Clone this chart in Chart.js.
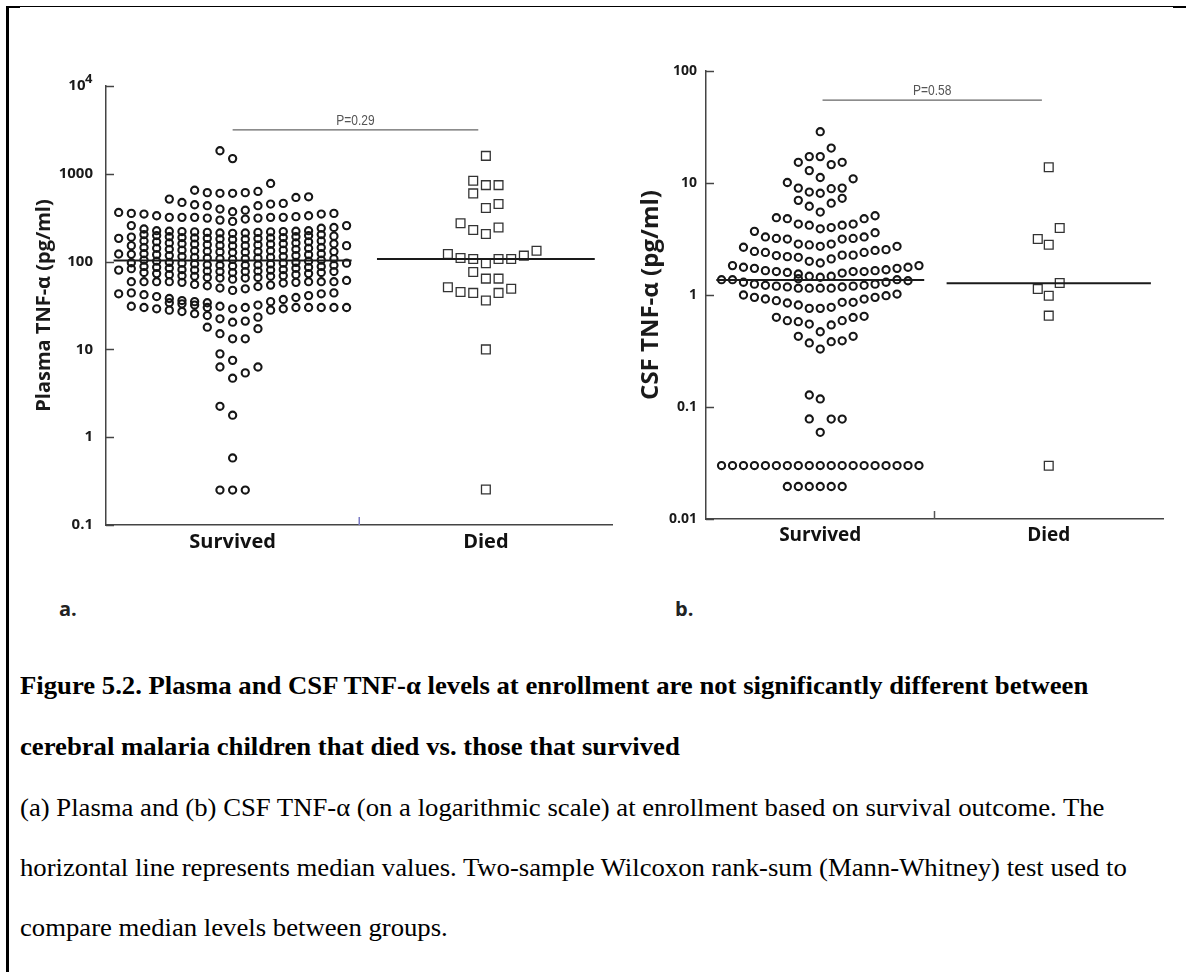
<!DOCTYPE html>
<html>
<head>
<meta charset="utf-8">
<script src="https://cdn.jsdelivr.net/npm/chart.js@4.4.1/dist/chart.umd.min.js"></script>
<style>
  body { margin: 0; background: #fff; width: 1186px; height: 972px; position: relative; overflow: hidden; }
  .box { position: absolute; top: 0; height: 580px; }
  #plasmaBox { left: 0; width: 620px; }
  #csfBox { left: 620px; width: 566px; }
  .rule { position: absolute; background: #000; }
  .tag { position: absolute; font: bold 20px "Open Sans", sans-serif; line-height: 24px; color: #222; }
  .cap { position: absolute; left: 20px; font: 25px "Liberation Serif", "Times New Roman", serif; line-height: 30px;
         white-space: nowrap; color: #000; transform: scaleX(1.068); transform-origin: 0 0; }
  .cap.b { font-weight: bold; }
</style>
</head>
<body>
<div class="rule" style="left:6px;top:6px;width:2.5px;height:966px"></div>
<div class="rule" style="left:6px;top:6px;width:1180px;height:1.3px"></div>
<div class="rule" style="left:6px;top:5.5px;width:14px;height:2.5px"></div>
<div class="rule" style="left:1173px;top:5.5px;width:13px;height:2.5px"></div>

<div class="box" id="plasmaBox"><canvas id="plasma"></canvas></div>
<div class="box" id="csfBox"><canvas id="csf"></canvas></div>

<div class="tag" style="left:59px;top:597px">a.</div>
<div class="tag" style="left:675px;top:597px">b.</div>

<div class="cap b" style="top:671px">Figure 5.2. Plasma and CSF TNF-α levels at enrollment are not significantly different between</div>
<div class="cap b" style="top:732px">cerebral malaria children that died vs. those that survived</div>
<div class="cap" style="top:793px">(a) Plasma and (b) CSF TNF-α (on a logarithmic scale) at enrollment based on survival outcome. The</div>
<div class="cap" style="top:853px">horizontal line represents median values. Two-sample Wilcoxon rank-sum (Mann-Whitney) test used to</div>
<div class="cap" style="top:913px">compare median levels between groups.</div>

<script>
const groups = ["Survived", "Died"];

// each inner list is one column of the swarm, left to right, values in pg/ml
const plasmaSurvivedCols = [
  [363, 184, 122, 80, 43],
  [354, 257, 190, 152, 121, 97, 83, 59, 44, 31],
  [348, 235, 203, 172, 145, 123, 104, 88, 75, 59, 42, 30],
  [333, 225, 198, 168, 142, 120, 101, 86, 73, 59, 40, 29],
  [515, 319, 222, 192, 163, 138, 117, 98, 84, 71, 59, 38, 34, 28],
  [472, 319, 220, 188, 160, 135, 114, 96, 81, 69, 58, 36, 33, 27],
  [650, 444, 319, 218, 186, 158, 133, 112, 94, 80, 68, 55, 35, 32, 25.5],
  [610, 433, 313, 215, 184, 156, 131, 110, 92, 78, 66, 53, 34, 30, 24.3, 17.9],
  [1830, 600, 397, 297, 212, 181, 153, 129, 108, 91, 77, 65, 50, 31, 22.3, 15.1, 8.9, 6.3, 2.25, 0.25],
  [1490, 600, 370, 287, 210, 178, 151, 127, 106, 89, 75, 63, 47, 29, 20.4, 13.2, 7.5, 4.7, 1.78, 0.58, 0.25],
  [610, 385, 305, 212, 180, 152, 128, 108, 91, 77, 65, 49, 30, 21, 13.2, 5.4, 0.25],
  [630, 433, 313, 215, 183, 155, 130, 110, 92, 78, 66, 52, 32, 23.3, 17.2, 6.3],
  [776, 452, 319, 218, 186, 158, 133, 112, 94, 80, 68, 54, 35, 28],
  [460, 319, 220, 188, 160, 135, 114, 96, 81, 69, 57, 37, 29],
  [538, 325, 222, 192, 163, 138, 117, 98, 84, 71, 58, 39, 30],
  [547, 333, 225, 198, 168, 142, 120, 101, 86, 73, 59, 41, 30],
  [348, 240, 203, 172, 145, 123, 104, 88, 75, 59, 43, 30],
  [354, 245, 195, 160, 130, 108, 91, 77, 59, 44, 30],
  [257, 152, 96, 61, 30],
];
const plasmaDiedCols = [
  [],
  [122, 51],
  [273, 110, 45],
  [833, 598, 229, 107, 76, 44],
  [1600, 743, 407, 206, 96, 64, 36, 10, 0.254],
  [743, 452, 245, 107, 64, 44],
  [107, 49],
  [117],
  [133],
];
const plasmaMedians = [103, 107];
const plasmaTicks = [0.1, 1, 10, 100, 1000, 10000];
const plasmaPText = "P=0.29";
const plasmaPLevel = 3160;

const csfSurvivedCols = [
  [1.37, 0.03],
  [1.83, 1.37, 0.03],
  [2.67, 1.77, 1.3, 1.0, 0.03],
  [3.7, 2.45, 1.73, 1.25, 0.953, 0.03],
  [3.3, 2.4, 1.65, 1.22, 0.921, 0.03],
  [4.9, 3.2, 2.25, 1.62, 1.2, 0.89, 0.632, 0.03],
  [10.1, 4.8, 3.16, 2.2, 1.59, 1.18, 0.848, 0.59, 0.03, 0.0195],
  [15.3, 9.0, 7.0, 4.3, 2.85, 2.17, 1.54, 1.4, 1.15, 0.814, 0.578, 0.428, 0.03, 0.0195],
  [17.2, 12.9, 8.3, 6.2, 4.2, 2.8, 2.0, 1.47, 1.15, 0.76, 0.55, 0.373, 0.128, 0.0782, 0.03, 0.0195],
  [28.7, 17.2, 11.2, 8.1, 5.5, 3.9, 2.72, 1.93, 1.44, 1.15, 0.76, 0.47, 0.329, 0.118, 0.0594, 0.03, 0.0195],
  [20.5, 14.6, 8.9, 6.6, 4.0, 2.85, 2.1, 1.47, 1.15, 0.776, 0.54, 0.383, 0.078, 0.03, 0.0195],
  [15.3, 9.0, 7.3, 4.2, 3.16, 2.27, 1.57, 1.18, 0.86, 0.59, 0.39, 0.078, 0.03, 0.0195],
  [10.9, 4.3, 3.2, 2.27, 1.62, 1.2, 0.86, 0.63, 0.428, 0.03],
  [4.8, 3.3, 2.4, 1.62, 1.22, 0.92, 0.645, 0.03],
  [5.1, 3.6, 2.5, 1.65, 1.25, 0.953, 0.03],
  [2.54, 1.68, 1.3, 0.986, 0.03],
  [2.72, 1.73, 1.37, 1.02, 0.03],
  [1.77, 1.34, 0.03],
  [1.83, 0.03],
];
const csfDiedCols = [
  [3.16, 1.13],
  [13.8, 2.81, 0.986, 0.654, 0.0299],
  [3.97, 1.28],
];
const csfMedians = [1.36, 1.27];
const csfTicks = [0.01, 0.1, 1, 10, 100];
const csfPText = "P=0.58";
const csfPLevel = 55;

// turn swarm columns into scatter points around the group position
function swarm(cols, groupX, step) {
  const mid = (cols.length - 1) / 2;
  const pts = [];
  cols.forEach((col, i) => {
    col.forEach(v => pts.push({ x: groupX + (i - mid) * step, y: v }));
  });
  return pts;
}

// inward y ticks, divider tick on the x axis, p-value text, exponent on 10^4
const axisExtras = {
  id: "axisExtras",
  afterDraw(chart, args, opts) {
    const { ctx, chartArea, scales: { x, y } } = chart;
    ctx.save();
    ctx.lineWidth = 1.5;
    ctx.strokeStyle = "#444";
    y.ticks.forEach(t => {
      const py = Math.round(y.getPixelForValue(t.value)) + 0.5;
      ctx.beginPath();
      ctx.moveTo(chartArea.left, py);
      ctx.lineTo(chartArea.left + 8, py);
      ctx.stroke();
    });
    const mx = x.getPixelForValue(1.5);
    ctx.strokeStyle = opts.midColor;
    ctx.beginPath();
    ctx.moveTo(mx, chartArea.bottom);
    ctx.lineTo(mx, chartArea.bottom - 8);
    ctx.stroke();

    ctx.fillStyle = "#555";
    ctx.font = '15px "Liberation Sans", sans-serif';
    ctx.textAlign = "center";
    ctx.textBaseline = "bottom";
    ctx.translate(x.getPixelForValue((opts.pSpan[0] + opts.pSpan[1]) / 2), y.getPixelForValue(opts.pLevel) - 2);
    ctx.scale(0.8, 1);
    ctx.fillText(opts.pText, 0, 0);
    ctx.restore();

    if (opts.exponent) {
      const top = y.ticks[y.ticks.length - 1].value;
      ctx.save();
      ctx.fillStyle = "#1a1a1a";
      ctx.font = 'bold 13px "Open Sans", sans-serif';
      ctx.textAlign = "left";
      ctx.textBaseline = "middle";
      ctx.fillText(opts.exponent, chartArea.left - 21, y.getPixelForValue(top) - 7);
      ctx.restore();
    }
  },
};

function makeChart(id, cfg) {
  const datasets = [
    {
      data: [{ x: 1 - cfg.medHalf[0], y: cfg.medians[0] }, { x: 1 + cfg.medHalf[0], y: cfg.medians[0] }],
      showLine: true, borderColor: "#1a1a1a", borderWidth: 2, pointRadius: 0, order: 0,
    },
    {
      data: [{ x: 2 - cfg.medHalf[1], y: cfg.medians[1] }, { x: 2 + cfg.medHalf[1], y: cfg.medians[1] }],
      showLine: true, borderColor: "#1a1a1a", borderWidth: 2, pointRadius: 0, order: 0,
    },
    {
      data: [{ x: cfg.pSpan[0], y: cfg.pLevel }, { x: cfg.pSpan[1], y: cfg.pLevel }],
      showLine: true, borderColor: "#666", borderWidth: 1.3, pointRadius: 0, order: 0,
    },
    {
      label: groups[0],
      data: swarm(cfg.survived, 1, cfg.step),
      pointStyle: "circle", pointRadius: 3.6, borderWidth: 2.1,
      borderColor: "#161616", backgroundColor: "rgba(0,0,0,0)", order: 1,
    },
    {
      label: groups[1],
      data: swarm(cfg.died, 2, cfg.step),
      pointStyle: "rect", pointRadius: 6.2, borderWidth: 1.3,
      borderColor: "#333", backgroundColor: "rgba(0,0,0,0)", order: 1,
    },
  ];

  return new Chart(document.getElementById(id), {
    type: "scatter",
    data: { datasets },
    options: {
      responsive: true,
      maintainAspectRatio: false,
      animation: false,
      devicePixelRatio: 1,
      layout: { padding: cfg.padding },
      plugins: {
        legend: { display: false },
        tooltip: { enabled: false },
        axisExtras: { midColor: cfg.midColor, pText: cfg.pText, pLevel: cfg.pLevel, pSpan: cfg.pSpan, exponent: cfg.exponent },
      },
      scales: {
        x: {
          type: "linear",
          min: 0.5,
          max: 2.5,
          afterBuildTicks: s => { s.ticks = groups.map((g, i) => ({ value: i + 1 })); },
          afterFit: s => { s.height = cfg.xHeight; },
          grid: { display: false, drawTicks: false },
          border: { display: true, color: "#444", width: 1.5 },
          ticks: {
            padding: 5,
            color: "#111",
            font: { family: "Open Sans", weight: "bold", size: cfg.xFont },
            callback: v => groups[v - 1],
          },
        },
        y: {
          type: "logarithmic",
          min: cfg.ticks[0],
          max: cfg.ticks[cfg.ticks.length - 1],
          afterBuildTicks: s => { s.ticks = cfg.ticks.map(v => ({ value: v })); },
          afterFit: s => { s.width = cfg.yWidth; },
          grid: { display: false, drawTicks: false },
          border: { display: true, color: "#444", width: 1.5 },
          ticks: {
            padding: cfg.yPad,
            color: "#1a1a1a",
            font: { family: "Open Sans", weight: "bold", size: cfg.yFont },
            // 10^4 is written as "10" plus a raised exponent drawn by the plugin
            callback: v => (v === 10000 ? "10\u2002" : String(v)),
          },
          title: {
            display: true,
            text: cfg.title,
            color: "#1a1a1a",
            font: { family: "Open Sans", weight: "bold", size: cfg.titleFont },
            padding: { top: cfg.titlePad, bottom: 0 },
          },
        },
      },
    },
    plugins: [axisExtras],
  });
}

makeChart("plasma", {
  survived: plasmaSurvivedCols, died: plasmaDiedCols, medians: plasmaMedians,
  ticks: plasmaTicks, pText: plasmaPText, pLevel: plasmaPLevel, pSpan: [1, 1.97],
  step: 0.05, medHalf: [0.47, 0.43], midColor: "#7b7bc4", exponent: "4",
  title: "Plasma TNF-\u03b1 (pg/ml)", titleFont: 20, titlePad: 32,
  yWidth: 106, yPad: 13, yFont: 15, xHeight: 55, xFont: 20,
  padding: { top: 86, right: 6, bottom: 0, left: 0 },
});

makeChart("csf", {
  survived: csfSurvivedCols, died: csfDiedCols, medians: csfMedians,
  ticks: csfTicks, pText: csfPText, pLevel: csfPLevel, pSpan: [1.01, 1.97],
  step: 0.048, medHalf: [0.455, 0.447], midColor: "#555", exponent: null,
  title: "CSF TNF-\u03b1 (pg/ml)", titleFont: 24, titlePad: 17,
  yWidth: 86, yPad: 9, yFont: 14, xHeight: 61, xFont: 19,
  padding: { top: 71, right: 23, bottom: 0, left: 0 },
});
</script>
</body>
</html>
